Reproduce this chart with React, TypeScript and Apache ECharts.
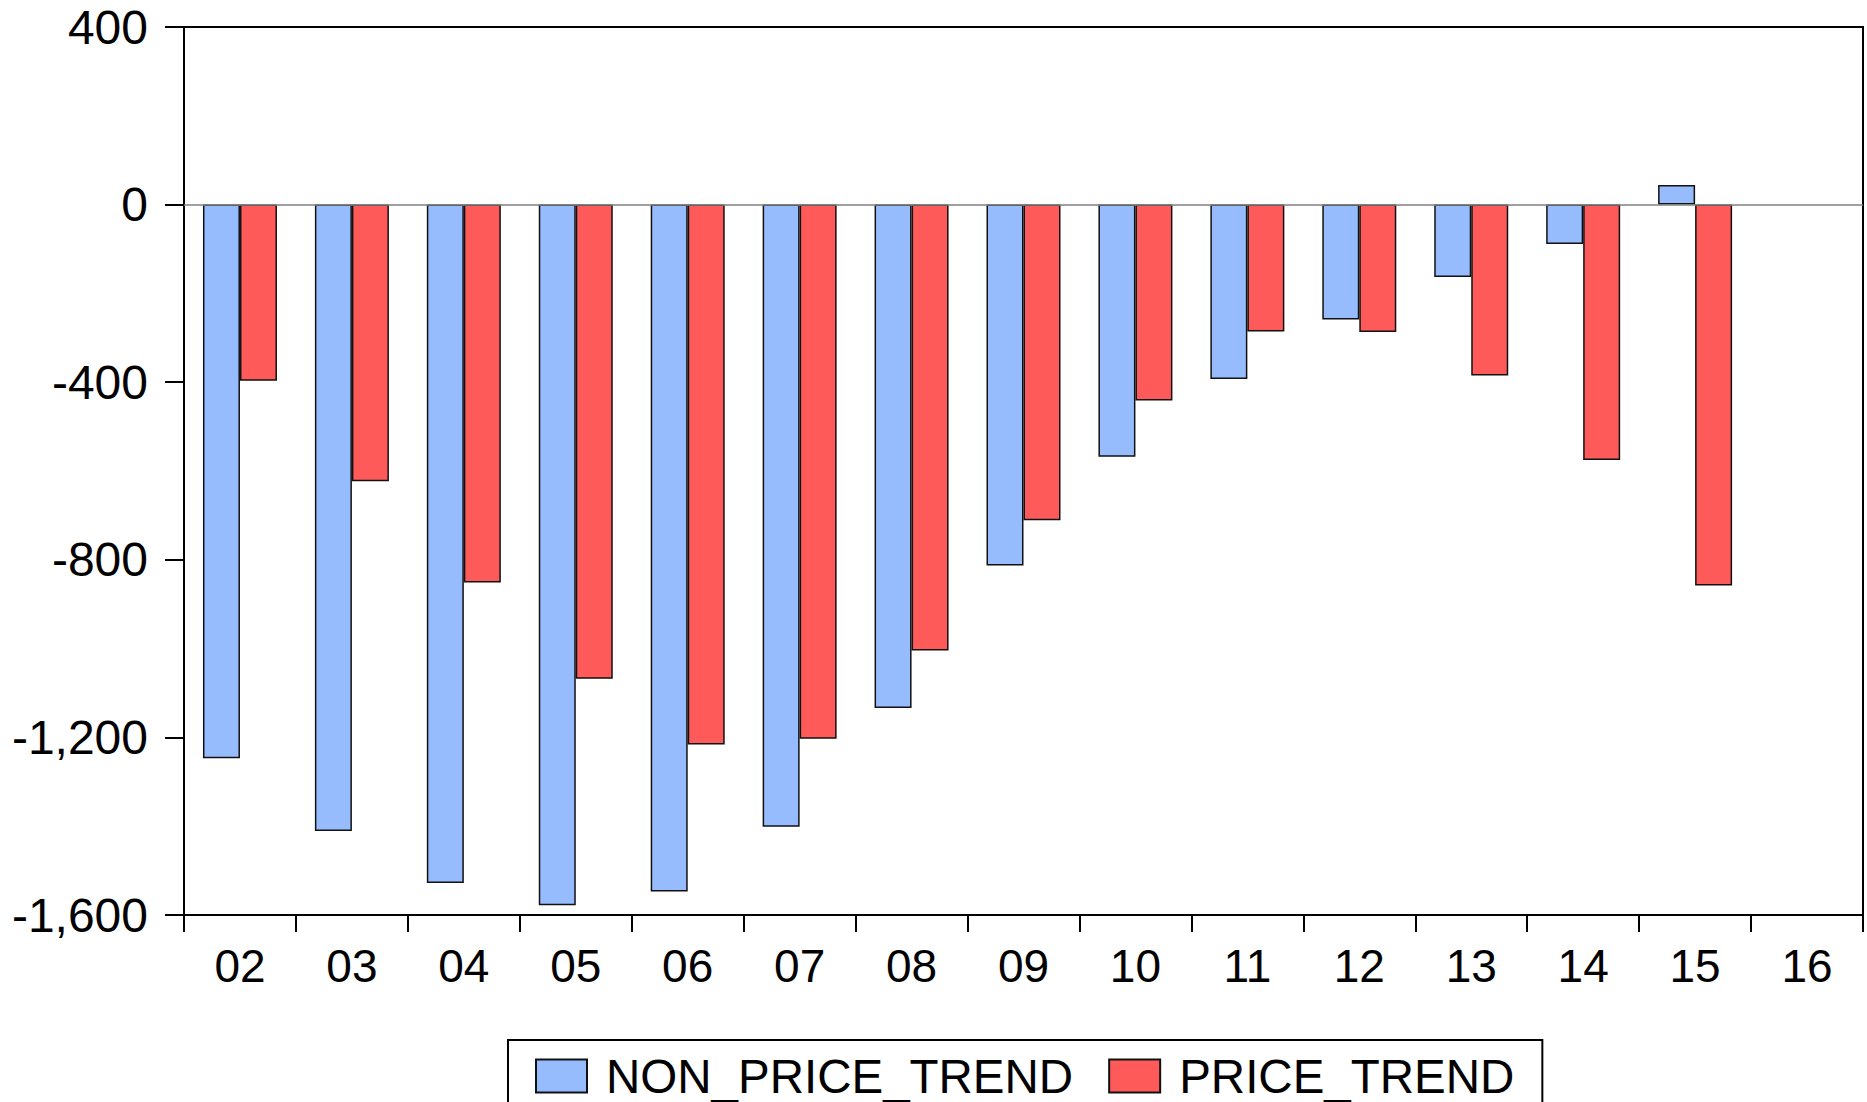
import React, { useEffect, useRef } from "react";
import * as echarts from "echarts";

const categories = ["02", "03", "04", "05", "06", "07", "08", "09", "10", "11", "12", "13", "14", "15", "16"];
const nonPriceTrend = [-1247, -1411, -1528, -1578, -1547, -1401, -1134, -813, -568, -393, -259, -163, -89, 44, null];
const priceTrend = [-397, -623, -851, -1068, -1216, -1203, -1004, -711, -441, -286, -287, -385, -575, -858, null];
const yTicks = { min: -1600, max: 400, interval: 400 };

const FONT = '"Liberation Sans", Arial, sans-serif';

export default function App() {
  const ref = useRef<HTMLDivElement>(null);
  useEffect(() => {
    if (!ref.current) return;
    const chart = echarts.init(ref.current, null, { renderer: "svg" });
    chart.setOption({
      animation: false,
      backgroundColor: "#ffffff",
      grid: {
        left: 184,
        right: 4,
        top: 27,
        bottom: 187,
        show: true,
        borderColor: "#000",
        borderWidth: 2,
        backgroundColor: "transparent",
      },
      legend: {
        top: 1040,
        left: 508,
        padding: [12, 28, 30, 27],
        borderColor: "#000",
        borderWidth: 2,
        itemWidth: 51,
        itemHeight: 33,
        itemGap: 35,
        icon: "rect",
        textStyle: {
          fontFamily: FONT,
          fontSize: 47.5,
          lineHeight: 36,
          color: "#000",
          padding: [0, 0, 6, 14],
        },
        data: ["NON_PRICE_TREND", "PRICE_TREND"],
      },
      xAxis: {
        type: "category",
        data: categories,
        axisLine: { onZero: false, lineStyle: { color: "#000", width: 2 } },
        axisTick: { show: true, length: 17, lineStyle: { color: "#000", width: 2 } },
        axisLabel: { fontFamily: FONT, fontSize: 46, color: "#000", margin: 28 },
        splitLine: { show: false },
      },
      yAxis: {
        type: "value",
        min: yTicks.min,
        max: yTicks.max,
        interval: yTicks.interval,
        axisLine: { show: true, lineStyle: { color: "#000", width: 2 } },
        axisTick: { show: true, length: 19, lineStyle: { color: "#000", width: 2 } },
        axisLabel: {
          fontFamily: FONT,
          fontSize: 48,
          color: "#000",
          margin: 36,
          formatter: (v: number) => v.toLocaleString("en-US"),
        },
        splitLine: { show: false },
      },
      series: [
        {
          name: "NON_PRICE_TREND",
          type: "bar",
          data: nonPriceTrend,
          barWidth: 37,
          barGap: "0%",
          itemStyle: { color: "#96BCFE", borderColor: "#111", borderWidth: 1.5 },
          markLine: {
            silent: true,
            symbol: "none",
            label: { show: false },
            lineStyle: { color: "#808080", width: 1.5, type: "solid" },
            data: [{ yAxis: 0 }],
          },
        },
        {
          name: "PRICE_TREND",
          type: "bar",
          data: priceTrend,
          barWidth: 37,
          barGap: "0%",
          itemStyle: { color: "#FE5A5A", borderColor: "#111", borderWidth: 1.5 },
        },
      ],
    });
    return () => chart.dispose();
  }, []);
  return (
    <div
      ref={ref}
      style={{ position: "fixed", left: 0, top: 0, width: 1867, height: 1102, background: "#fff" }}
    />
  );
}
